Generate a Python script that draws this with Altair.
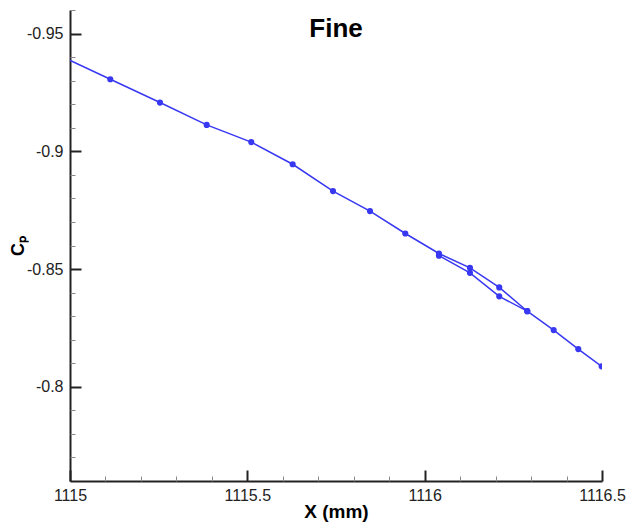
import altair as alt
import pandas as pd

# ---- data ----
zone1_x = [1114.88, 1115.1136, 1115.2537, 1115.3854, 1115.5111, 1115.6278, 1115.7415,
           1115.8458, 1115.9454, 1116.0403, 1116.1277, 1116.2103, 1116.2893,
           1116.3637, 1116.4331, 1116.4990]
zone1_cp = [-0.9471, -0.9306, -0.9207, -0.9112, -0.9039, -0.8945, -0.8831,
            -0.8746, -0.8651, -0.8566, -0.8505, -0.8422, -0.8321,
            -0.8241, -0.8160, -0.8087]
zone2_x = [1116.0403, 1116.1277, 1116.2103, 1116.2893]
zone2_cp = [-0.8557, -0.8484, -0.8384, -0.8321]

major_x = [1115, 1115.5, 1116, 1116.5]
minor_x = [1115.1, 1115.2, 1115.3, 1115.4, 1115.6, 1115.7, 1115.8, 1115.9,
           1116.1, 1116.2, 1116.3, 1116.4]
major_y = [-0.95, -0.9, -0.85, -0.8]
minor_y = [-0.96, -0.94, -0.93, -0.92, -0.91, -0.89, -0.88, -0.87, -0.86,
           -0.84, -0.83, -0.82, -0.81, -0.79, -0.78, -0.77]

df = pd.DataFrame({
    "x": zone1_x + zone2_x,
    "cp": zone1_cp + zone2_cp,
    "zone": ["Zone 1"] * len(zone1_x) + ["Zone 2"] * len(zone2_x),
})

W, H = 532, 471
FONT = "Liberation Sans"
INK = "#222222"
BLUE = "#3838f2"

xs = alt.Scale(domain=[1115, 1116.5], nice=False, zero=False)
ys = alt.Scale(domain=[-0.96, -0.76], nice=False, zero=False, reverse=True)

x_main = alt.Axis(orient="bottom", values=major_x, ticks=False, grid=False,
                  labelFont=FONT, labelFontSize=16, labelColor=INK, labelPadding=6,
                  labelFlush=False, labelOverlap=False, labelExpr="toString(datum.value)",
                  domainColor=INK, domainWidth=2,
                  title="X (mm)", titleFont=FONT, titleFontSize=19,
                  titleFontWeight="bold", titleColor="black", titlePadding=-1)
y_main = alt.Axis(orient="left", values=major_y, ticks=False, grid=False,
                  labelFont=FONT, labelFontSize=16, labelColor=INK, labelPadding=7,
                  labelFlush=False, labelOverlap=False, labelExpr="toString(datum.value)",
                  domainColor=INK, domainWidth=2,
                  title="Cₚ", titleFont=FONT, titleFontSize=18,
                  titleFontWeight="bold", titleColor="black", titlePadding=-1)

base = alt.Chart(df)

line = base.mark_line(color=BLUE, strokeWidth=1.5, clip=True).encode(
    x=alt.X("x:Q", scale=xs, axis=x_main),
    y=alt.Y("cp:Q", scale=ys, axis=y_main),
    detail="zone:N",
)

pts = base.mark_point(filled=True, size=38, color=BLUE, opacity=1, clip=True).encode(
    x=alt.X("x:Q", scale=xs, axis=None),
    y=alt.Y("cp:Q", scale=ys, axis=None),
)

major_ticks = base.mark_point(opacity=0).encode(
    x=alt.X("x:Q", scale=xs, axis=alt.Axis(orient="top", offset=-H, values=major_x,
            tickSize=11, tickWidth=2, tickColor=INK, labels=False, domain=False,
            grid=False, title=None)),
    y=alt.Y("cp:Q", scale=ys, axis=alt.Axis(orient="right", offset=-W, values=major_y,
            tickSize=11, tickWidth=2, tickColor=INK, labels=False, domain=False,
            grid=False, title=None)),
)

minor_ticks = base.mark_point(opacity=0).encode(
    x=alt.X("x:Q", scale=xs, axis=alt.Axis(orient="top", offset=-H, values=minor_x,
            tickSize=5, tickWidth=1, tickColor="#888888", labels=False, domain=False,
            grid=False, title=None)),
    y=alt.Y("cp:Q", scale=ys, axis=alt.Axis(orient="right", offset=-W, values=minor_y,
            tickSize=5, tickWidth=1, tickColor="#888888", labels=False, domain=False,
            grid=False, title=None)),
)

chart = (
    alt.layer(line, pts, major_ticks, minor_ticks)
    .resolve_axis(x="independent", y="independent")
    .properties(
        width=W, height=H,
        title=alt.TitleParams("Fine", font=FONT, fontSize=26, fontWeight="bold",
                              color="black", anchor="middle", frame="group",
                              baseline="middle", offset=-45),
        autosize=alt.AutoSizeParams(type="none"),
        padding={"left": 62, "top": 2, "right": 27, "bottom": 48},
    )
    .configure(background="white")
    .configure_view(stroke=None)
)

chart.save("out.html", embed_options={"renderer": "svg", "actions": False})
